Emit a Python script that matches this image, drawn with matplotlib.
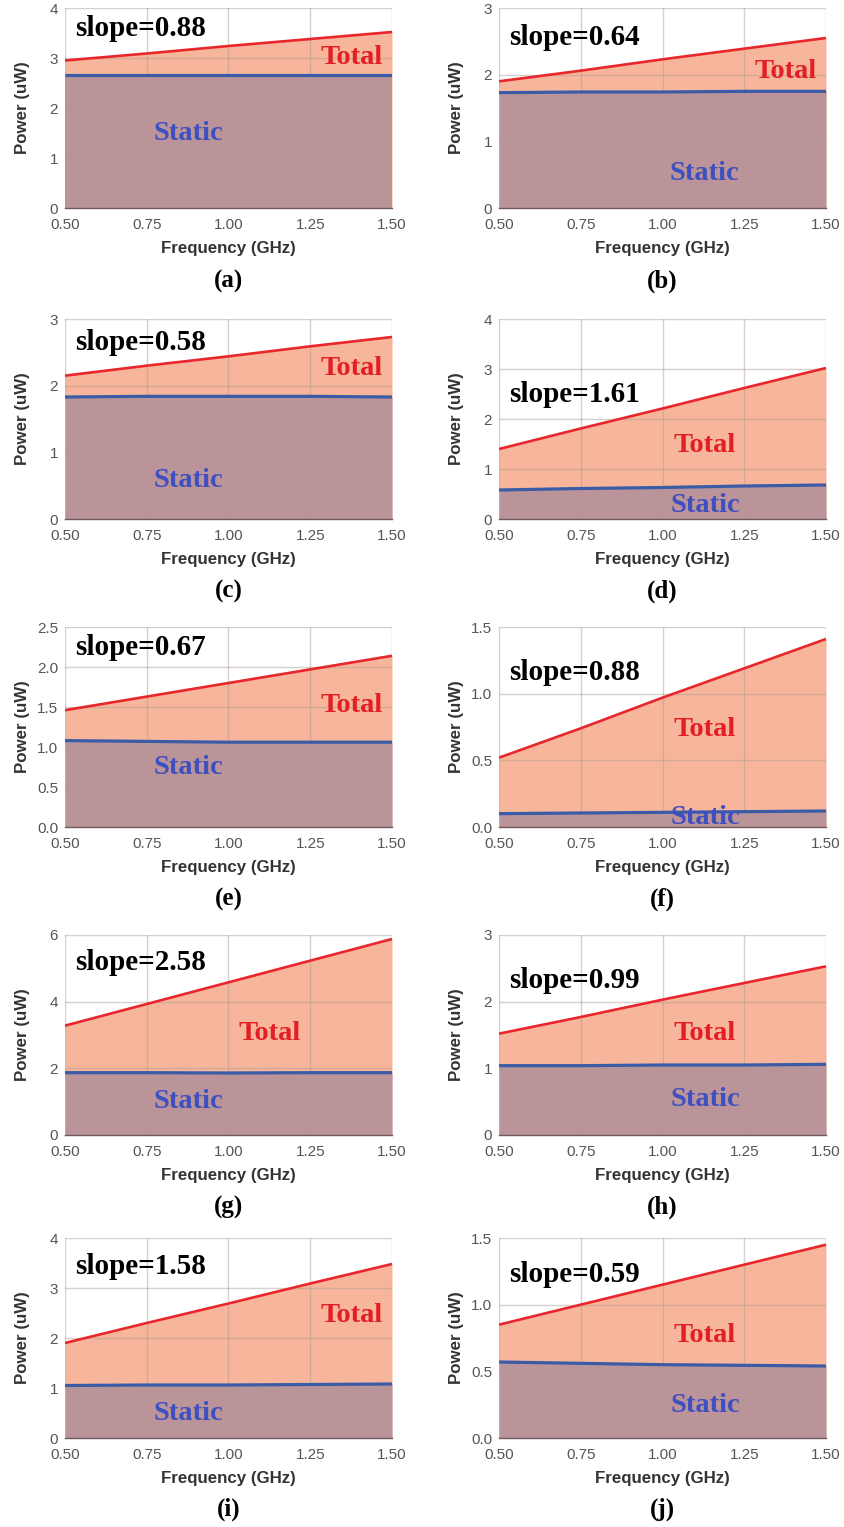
import matplotlib
matplotlib.use("Agg")
import matplotlib.pyplot as plt
import numpy as np

freq = [0.50, 0.75, 1.00, 1.25, 1.50]
xticks = [0.50, 0.75, 1.00, 1.25, 1.50]

labels = ['(a)', '(b)', '(c)', '(d)', '(e)', '(f)', '(g)', '(h)', '(i)', '(j)']
slopes = ['0.88', '0.64', '0.58', '1.61', '0.67', '0.88', '2.58', '0.99', '1.58', '0.59']

total = [
    [2.95, 3.09, 3.24, 3.38, 3.52],
    [1.90, 2.06, 2.23, 2.39, 2.55],
    [2.15, 2.30, 2.44, 2.59, 2.73],
    [1.40, 1.81, 2.21, 2.62, 3.02],
    [1.46, 1.63, 1.80, 1.97, 2.14],
    [0.52, 0.74, 0.97, 1.19, 1.41],
    [3.28, 3.93, 4.58, 5.23, 5.88],
    [1.52, 1.77, 2.03, 2.28, 2.53],
    [1.90, 2.30, 2.69, 3.09, 3.48],
    [0.85, 1.00, 1.15, 1.30, 1.45],
]
static = [
    [2.67, 2.67, 2.67, 2.67, 2.67],
    [1.73, 1.74, 1.74, 1.75, 1.75],
    [1.83, 1.84, 1.84, 1.84, 1.83],
    [0.58, 0.61, 0.63, 0.66, 0.68],
    [1.08, 1.07, 1.06, 1.06, 1.06],
    [0.10, 0.105, 0.11, 0.115, 0.12],
    [1.87, 1.87, 1.86, 1.87, 1.87],
    [1.04, 1.04, 1.05, 1.05, 1.06],
    [1.05, 1.06, 1.06, 1.07, 1.08],
    [0.57, 0.56, 0.55, 0.545, 0.54],
]
ymax = [4, 3, 3, 4, 2.5, 1.5, 6, 3, 4, 1.5]
ystep = [1, 1, 1, 1, 0.5, 0.5, 2, 1, 1, 0.5]

# text anchor positions in data units (slope: left/center, total & static: center)
slope_pos = [(0.53, 3.60), (0.53, 2.56), (0.53, 2.65), (0.53, 2.50), (0.53, 2.25),
             (0.53, 1.16), (0.53, 5.16), (0.53, 2.31), (0.53, 3.42), (0.53, 1.23)]
total_pos = [(1.378, 3.02), (1.378, 2.04), (1.378, 2.26), (1.13, 1.48), (1.378, 1.52),
             (1.13, 0.735), (1.127, 3.03), (1.13, 1.53), (1.378, 2.44), (1.13, 0.77)]
static_pos = [(0.876, 1.48), (1.127, 0.51), (0.876, 0.585), (1.13, 0.28), (0.876, 0.74),
              (1.13, 0.068), (0.876, 0.99), (1.13, 0.525), (0.876, 0.50), (1.13, 0.24)]

W, H = 844, 1527
fig = plt.figure(figsize=(W / 100, H / 100), dpi=100)

lefts = [65, 499]
tops = [8, 319, 627, 935, 1238]
label_y = [281, 591, 899, 1207, 1509]
aw, ah = 327, 200

serif = 'Liberation Serif'
sans = 'Liberation Sans'

for i in range(10):
    r, c = divmod(i, 2)
    l, t = lefts[c], tops[r]
    ax = fig.add_axes([l / W, 1 - (t + ah) / H, aw / W, ah / H])
    ax.fill_between(freq, 0, total[i], color='#F7B69C', lw=0, zorder=1)
    ax.fill_between(freq, 0, static[i], color='#BB949A', lw=0, zorder=2)
    ax.plot(freq, total[i], color='#E8262B', lw=1.9, zorder=4, solid_capstyle='butt')
    ax.plot(freq, static[i], color='#3A5CA6', lw=2.3, zorder=4, solid_capstyle='butt')
    ax.set_xlim(0.5, 1.5)
    ax.set_ylim(0, ymax[i])
    yt = np.arange(0, ymax[i] + 1e-9, ystep[i])
    ax.set_yticks(yt)
    if ystep[i] < 1:
        ax.set_yticklabels(['%.1f' % v for v in yt])
    else:
        ax.set_yticklabels(['%d' % v for v in yt])
    ax.set_xticks(xticks)
    ax.set_xticklabels(['%.2f' % v for v in xticks])
    ax.grid(True, color='#A89890', alpha=0.45, lw=1.0, zorder=3)
    ax.set_axisbelow(False)
    for s in ['top', 'right', 'left']:
        ax.spines[s].set_visible(False)
    ax.spines['bottom'].set_color('#6E5A5E')
    ax.spines['bottom'].set_linewidth(1.0)
    ax.spines['bottom'].set_zorder(5)
    ax.tick_params(length=0, labelsize=11, labelcolor='#555555')
    ax.tick_params(axis='x', pad=7)
    ax.tick_params(axis='y', pad=5)
    for lab in ax.get_xticklabels() + ax.get_yticklabels():
        lab.set_fontfamily(sans)
    ax.set_xlabel('Frequency (GHz)', fontsize=12.2, color='#333333', family=sans,
                  fontweight='bold')
    ax.set_ylabel('Power (uW)', fontsize=12.2, color='#333333', family=sans,
                  fontweight='bold')
    ax.xaxis.set_label_coords(0.5, -0.165)
    ax.yaxis.set_label_coords(-35 / aw, 0.5)

    ax.text(slope_pos[i][0], slope_pos[i][1], 'slope=' + slopes[i], family=serif,
            fontweight='bold', fontsize=21, color='black', ha='left', va='center', zorder=6)
    ax.text(total_pos[i][0], total_pos[i][1], 'Total', family=serif,
            fontweight='bold', fontsize=20.5, color='#E31F26', ha='center', va='center', zorder=6)
    ax.text(static_pos[i][0], static_pos[i][1], 'Static', family=serif,
            fontweight='bold', fontsize=20.5, color='#3E4FC0', ha='center', va='center', zorder=6)

    fig.text((l + aw / 2) / W, 1 - label_y[r] / H, labels[i], family=serif,
             fontweight='bold', fontsize=18, ha='center', va='center')

fig.savefig('out.png', dpi=100, facecolor='white')
